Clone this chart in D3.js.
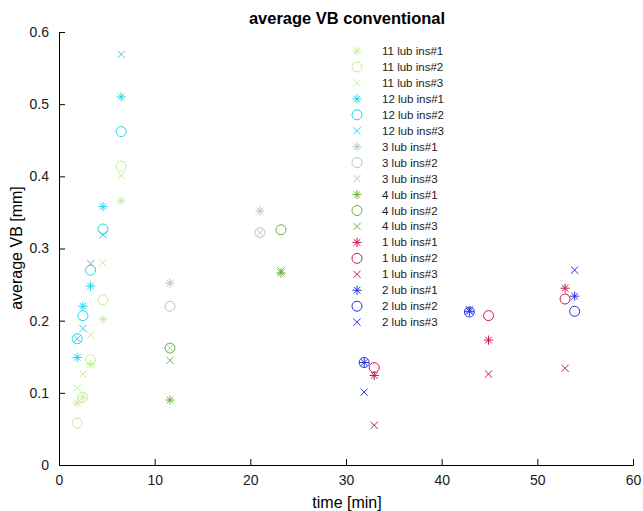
<!DOCTYPE html>
<html><head><meta charset="utf-8">
<script src="https://cdn.jsdelivr.net/npm/d3@7"></script>
<style>body{margin:0;background:#fff}svg{display:block;font-family:"Liberation Sans",Arial,sans-serif}</style>
</head><body><svg id="c" width="643" height="511"></svg>
<script>
// ---- data ----
const lub11Time = [1.9, 2.5, 3.3, 4.6, 6.5];
const lub11Ins1 = [0.086, 0.094, 0.139, 0.202, 0.366];
const lub11Ins2 = [0.058, 0.094, 0.146, 0.229, 0.414];
const lub11Ins3 = [0.107, 0.126, 0.180, 0.280, 0.401];
const lub12Time = [1.9, 2.5, 3.3, 4.6, 6.5];
const lub12Ins1 = [0.149, 0.220, 0.248, 0.358, 0.510];
const lub12Ins2 = [0.175, 0.207, 0.270, 0.327, 0.462];
const lub12Ins3 = [0.175, 0.189, 0.279, 0.319, 0.569];
const lub3Time = [11.6, 21.0];
const lub3Ins1 = [0.252, 0.352];
const lub3Ins2 = [0.220, 0.322];
const lub3Ins3 = [0.162, 0.322];
const lub4Time = [11.6, 23.2];
const lub4Ins1 = [0.090, 0.266];
const lub4Ins2 = [0.162, 0.326];
const lub4Ins3 = [0.145, 0.269];
const lub1Time = [32.95, 44.9, 52.9];
const lub1Ins1 = [0.124, 0.173, 0.245];
const lub1Ins2 = [0.135, 0.207, 0.230];
const lub1Ins3 = [0.055, 0.126, 0.134];
const lub2Time = [31.9, 42.9, 53.9];
const lub2Ins1 = [0.142, 0.213, 0.234];
const lub2Ins2 = [0.142, 0.212, 0.213];
const lub2Ins3 = [0.101, 0.215, 0.270];
const xTicks = [0, 10, 20, 30, 40, 50, 60];
const yTicks = [0, 0.1, 0.2, 0.3, 0.4, 0.5, 0.6];

const groups = [
  {name: "11", color: "#c4eea0", t: lub11Time, ins: [lub11Ins1, lub11Ins2, lub11Ins3]},
  {name: "12", color: "#1fd6ee", t: lub12Time, ins: [lub12Ins1, lub12Ins2, lub12Ins3]},
  {name: "3",  color: "#b3c6c6", t: lub3Time,  ins: [lub3Ins1, lub3Ins2, lub3Ins3]},
  {name: "4",  color: "#6cb33e", t: lub4Time,  ins: [lub4Ins1, lub4Ins2, lub4Ins3]},
  {name: "1",  color: "#c8184c", t: lub1Time,  ins: [lub1Ins1, lub1Ins2, lub1Ins3]},
  {name: "2",  color: "#2233dd", t: lub2Time,  ins: [lub2Ins1, lub2Ins2, lub2Ins3]}
];
const markerTypes = ["asterisk", "circle", "cross"];

const svg = d3.select("#c");
const x = d3.scaleLinear().domain([0, 60]).range([59, 633]);
const y = d3.scaleLinear().domain([0, 0.6]).range([465, 32]);

function markerPath(type) {
  if (type === "circle") {
    const r = 5;
    return `M${-r},0A${r},${r} 0 1,0 ${r},0A${r},${r} 0 1,0 ${-r},0Z`;
  }
  if (type === "cross") {
    const s = 3.6;
    return `M${-s},${-s}L${s},${s}M${-s},${s}L${s},${-s}`;
  }
  const s = 4.6, d = 3.3;
  return `M0,${-s}L0,${s}M${-s},0L${s},0M${-d},${-d}L${d},${d}M${-d},${d}L${d},${-d}`;
}

// axes
const gx = svg.append("g").attr("transform", "translate(0,465)")
  .call(d3.axisBottom(x).tickValues(xTicks).tickSizeInner(-6).tickSizeOuter(0).tickPadding(10).tickFormat(d3.format("d")));
const gy = svg.append("g").attr("transform", "translate(59,0)")
  .call(d3.axisLeft(y).tickValues(yTicks).tickSizeInner(-6).tickSizeOuter(0).tickPadding(10).tickFormat(d => d === 0 ? "0" : d3.format(".1f")(d)));
[gx, gy].forEach(g => {
  g.selectAll("text").attr("font-size", 14).attr("fill", "#1a1a1a").attr("font-family", "Liberation Sans, Arial, sans-serif");
  g.selectAll("line,path").attr("stroke", "#000").attr("stroke-width", 1);
});
gx.selectAll("text").attr("dy", "0.71em");

// points
groups.forEach(g => {
  g.ins.forEach((vals, k) => {
    svg.append("g").selectAll("path").data(vals).enter().append("path")
      .attr("transform", (v, i) => `translate(${x(g.t[i])},${y(v)})`)
      .attr("d", markerPath(markerTypes[k]))
      .attr("fill", "none").attr("stroke", g.color).attr("stroke-width", 1);
  });
});

// title & labels
svg.append("text").attr("x", 347).attr("y", 24).attr("text-anchor", "middle")
  .attr("font-size", 16.5).attr("font-weight", "bold").text("average VB conventional");
svg.append("text").attr("x", 347).attr("y", 508).attr("text-anchor", "middle")
  .attr("font-size", 16).text("time [min]");
svg.append("text").attr("transform", "translate(22,248) rotate(-90)").attr("text-anchor", "middle")
  .attr("font-size", 16).text("average VB [mm]");

// legend
const legendItems = [];
groups.forEach(g => markerTypes.forEach((m, k) => legendItems.push({label: `${g.name} lub ins#${k + 1}`, color: g.color, m})));
const lg = svg.append("g").selectAll("g").data(legendItems).enter().append("g")
  .attr("transform", (d, i) => `translate(357,${51 + i * 15.95})`);
lg.append("path").attr("d", d => markerPath(d.m)).attr("fill", "none").attr("stroke", d => d.color).attr("stroke-width", 1);
lg.append("text").attr("x", 25).attr("dy", "0.35em").attr("font-size", 11.5).attr("fill", "#1a1a1a").text(d => d.label);
</script></body></html>
